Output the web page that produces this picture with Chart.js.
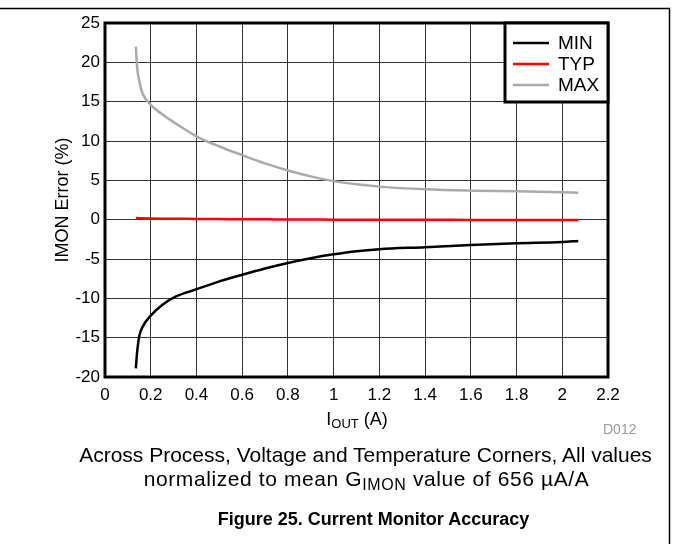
<!DOCTYPE html>
<html>
<head>
<meta charset="utf-8">
<script src="https://cdn.jsdelivr.net/npm/chart.js@4.4.1/dist/chart.umd.min.js"></script>
<style>
  body{margin:0;background:#fff;font-family:"Liberation Sans",Arial,sans-serif;}
  #wrap{position:relative;width:673px;height:544px;overflow:hidden;}
  #c{position:absolute;left:0;top:0;}
  .txt{position:absolute;color:#000;white-space:nowrap;line-height:1.15;}
  #xtitle{left:0;width:714px;text-align:center;top:409px;font-size:18px;}
  #xtitle sub{font-size:13px;vertical-align:-3px;line-height:0;}
  #code{left:603px;top:421px;font-size:14px;color:#999;}
  #cap1{left:0;width:731px;text-align:center;top:443px;font-size:21px;}
  #cap2{left:0;width:733px;text-align:center;top:467px;font-size:21px;letter-spacing:0.6px;}
  #cap2 sub{font-size:16px;vertical-align:-4px;line-height:0;}
  #fig{left:0;width:747px;text-align:center;top:509px;font-size:18px;font-weight:bold;}
</style>
</head>
<body>
<div id="wrap">
  <canvas id="c" width="673" height="544"></canvas>
  <div class="txt" id="xtitle">I<sub>OUT</sub> (A)</div>
  <div class="txt" id="code">D012</div>
  <div class="txt" id="cap1">Across Process, Voltage and Temperature Corners, All values</div>
  <div class="txt" id="cap2">normalized to mean G<sub>IMON</sub> value of 656 &micro;A/A</div>
  <div class="txt" id="fig">Figure 25. Current Monitor Accuracy</div>
</div>
<script>
var iout=[0.135,0.14,0.15,0.165,0.2,0.25,0.3,0.4,0.5,0.6,0.7,0.8,0.9,1.0,1.1,1.2,1.4,1.6,1.8,2.0,2.07];
var minErr=[-18.9,-17,-14.8,-13.6,-12.2,-10.85,-9.9,-8.85,-7.85,-7.0,-6.2,-5.5,-4.9,-4.4,-4.0,-3.75,-3.5,-3.22,-3.0,-2.84,-2.71];
var typErr=[0.2,0.2,0.18,0.17,0.15,0.13,0.12,0.1,0.08,0.05,0.04,0.03,0.02,0,0,0,-0.02,-0.03,-0.04,-0.05,-0.05];
var maxErr=[22,19.5,17.6,16.0,14.6,13.4,12.4,10.6,9.3,8.2,7.15,6.25,5.5,4.9,4.5,4.2,3.86,3.69,3.6,3.48,3.43];
var xTickLabels=['0','0.2','0.4','0.6','0.8','1','1.2','1.4','1.6','1.8','2','2.2'];
var seriesNames=['MIN','TYP','MAX'];
var seriesColors=['#000000','#ff0000','#aaaaaa'];

var FONT='"Liberation Sans", Arial, sans-serif';

var pts=function(ys){
    return iout.map(function(x,i){return {x:x,y:ys[i]};});
};

var framePlugin={
    id:'frame',
    afterDraw:function(chart){
        var ctx=chart.ctx,a=chart.chartArea;
        ctx.save();
        // page frame
        ctx.strokeStyle='#000';ctx.lineWidth=1.5;
        ctx.beginPath();
        ctx.moveTo(0,8.5);ctx.lineTo(669.5,8.5);ctx.lineTo(669.5,544);
        ctx.stroke();
        // plot border
        ctx.lineWidth=3;
        ctx.strokeRect(a.left,a.top,a.right-a.left,a.bottom-a.top);
        // legend box
        var lx=505,ly=a.top,lw=a.right-lx,lh=79;
        ctx.fillStyle='#fff';
        ctx.fillRect(lx,ly,lw,lh);
        ctx.strokeRect(lx,ly,lw,lh);
        ctx.font='19px '+FONT;
        ctx.textBaseline='middle';
        chart.data.datasets.forEach(function(ds,i){
            var y=ly+20+i*21;
            ctx.strokeStyle=ds.borderColor;ctx.lineWidth=2.5;
            ctx.beginPath();ctx.moveTo(513,y);ctx.lineTo(549,y);ctx.stroke();
            ctx.fillStyle='#000';
            ctx.fillText(ds.label,558,y+1);
        });
        ctx.restore();
    }
};

new Chart(document.getElementById('c'),{
    type:'scatter',
    data:{
        datasets:seriesNames.map(function(n,i){
            return {
                label:n,
                data:pts([minErr,typErr,maxErr][i]),
                showLine:true,
                borderColor:seriesColors[i],
                borderWidth:2.5,
                pointRadius:0,
                cubicInterpolationMode:'monotone'
            };
        })
    },
    options:{
        responsive:false,
        animation:false,
        layout:{padding:{top:23,right:65,left:52,bottom:0}},
        plugins:{legend:{display:false},tooltip:{enabled:false}},
        scales:{
            x:{
                type:'linear',min:0,max:2.2,
                afterFit:function(s){s.height=167;},
                grid:{color:'#333',lineWidth:1,drawTicks:false},
                border:{display:false},
                ticks:{
                    stepSize:0.2,padding:8,color:'#000',
                    font:{family:FONT,size:17},
                    callback:function(v,i){return xTickLabels[i];}
                }
            },
            y:{
                min:-20,max:25,
                afterFit:function(s){s.width=53;},
                grid:{color:'#333',lineWidth:1,drawTicks:false},
                border:{display:false},
                title:{display:true,text:'IMON Error (%)',color:'#000',padding:{top:0,bottom:0},
                       font:{family:FONT,size:18}},
                ticks:{
                    stepSize:5,padding:5,color:'#000',
                    font:{family:FONT,size:17}
                }
            }
        }
    },
    plugins:[framePlugin]
});
</script>
</body>
</html>
